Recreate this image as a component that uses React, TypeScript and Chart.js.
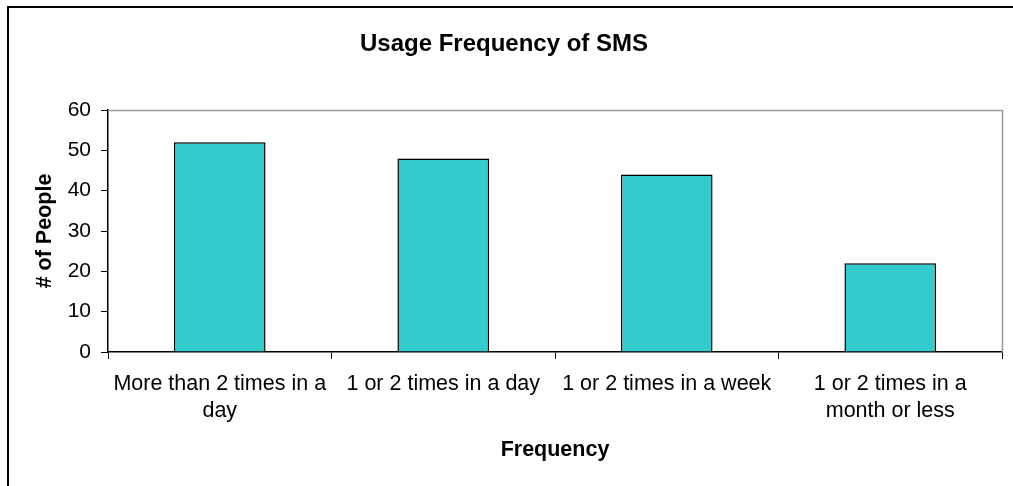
import React, { useEffect, useRef } from 'react';
import { Chart, registerables } from 'chart.js';

Chart.register(...registerables);

const chartTitle = 'Usage Frequency of SMS';
const xTitle = 'Frequency';
const yTitle = '# of People';
const categories: (string | string[])[] = [
  ['More than 2 times in a', 'day'],
  '1 or 2 times in a day',
  '1 or 2 times in a week',
  ['1 or 2 times in a', 'month or less'],
];
const peopleCounts = [52, 48, 44, 22];
const yMin = 0;
const yMax = 60;
const yStep = 10;

const FONT = "'Liberation Sans', Arial, sans-serif";

const framePlugin = {
  id: 'frame',
  beforeDraw(chart: any) {
    const ctx = chart.ctx;
    ctx.save();
    ctx.fillStyle = '#ffffff';
    ctx.fillRect(0, 0, chart.width, chart.height);
    ctx.strokeStyle = '#000000';
    ctx.lineWidth = 2;
    ctx.strokeRect(8, 7, chart.width + 20, chart.height + 20);
    // chart title
    ctx.fillStyle = '#000000';
    ctx.font = `bold 24px ${FONT}`;
    ctx.textAlign = 'center';
    ctx.textBaseline = 'alphabetic';
    ctx.fillText(chartTitle, 504, 51);
    ctx.restore();
  },
  beforeDatasetsDraw(chart: any) {
    const { ctx, chartArea } = chart;
    ctx.save();
    ctx.strokeStyle = '#9a9a9a';
    ctx.lineWidth = 1.5;
    ctx.beginPath();
    ctx.moveTo(chartArea.left, chartArea.top + 0.5);
    ctx.lineTo(chartArea.right + 0.5, chartArea.top + 0.5);
    ctx.lineTo(chartArea.right + 0.5, chartArea.bottom);
    ctx.stroke();
    ctx.restore();
  },
};

export default function App() {
  const ref = useRef<HTMLCanvasElement>(null);

  useEffect(() => {
    if (!ref.current) return;
    const chart = new Chart(ref.current, {
      type: 'bar',
      data: {
        labels: categories,
        datasets: [
          {
            data: peopleCounts,
            backgroundColor: '#33CCCC',
            borderColor: '#000000',
            borderWidth: 1.5,
            barPercentage: 0.41,
            categoryPercentage: 1,
          },
        ],
      },
      options: {
        animation: false,
        responsive: false,
        devicePixelRatio: 1,
        layout: { padding: { left: 0, right: 11, top: 110, bottom: 0 } },
        plugins: {
          legend: { display: false },
          tooltip: { enabled: false },
          title: { display: false },
        },
        scales: {
          x: {
            afterFit(scale: any) {
              scale.height = 134;
            },
            grid: {
              display: true,
              offset: true,
              drawOnChartArea: false,
              drawTicks: true,
              tickLength: 7,
              color: '#000',
            },
            border: { display: true, color: '#000', width: 1.5 },
            ticks: {
              color: '#000',
              padding: 11,
              maxRotation: 0,
              autoSkip: false,
              font: { family: FONT, size: 21.5, lineHeight: 1.28 },
            },
            title: {
              display: true,
              text: xTitle,
              color: '#000',
              font: { family: FONT, size: 21.5, weight: 'bold', lineHeight: 1.2 },
              padding: { top: 0, bottom: 23 },
            },
          },
          y: {
            min: yMin,
            max: yMax,
            afterFit(scale: any) {
              scale.width = 108;
            },
            grid: {
              display: true,
              drawOnChartArea: false,
              drawTicks: true,
              tickLength: 7,
              color: '#000',
            },
            border: { display: true, color: '#000', width: 1.5 },
            ticks: {
              stepSize: yStep,
              color: '#000',
              padding: 10,
              font: { family: FONT, size: 21 },
            },
            title: {
              display: true,
              text: yTitle,
              color: '#000',
              font: { family: FONT, size: 21.5, weight: 'bold', lineHeight: 1.2 },
              padding: { top: 32, bottom: 0 },
            },
          },
        },
      },
      plugins: [framePlugin],
    });
    return () => chart.destroy();
  }, []);

  return (
    <div style={{ position: 'fixed', left: 0, top: 0, width: 1013, height: 486, background: '#fff' }}>
      <canvas ref={ref} width={1013} height={486} style={{ width: 1013, height: 486, display: 'block' }} />
    </div>
  );
}
